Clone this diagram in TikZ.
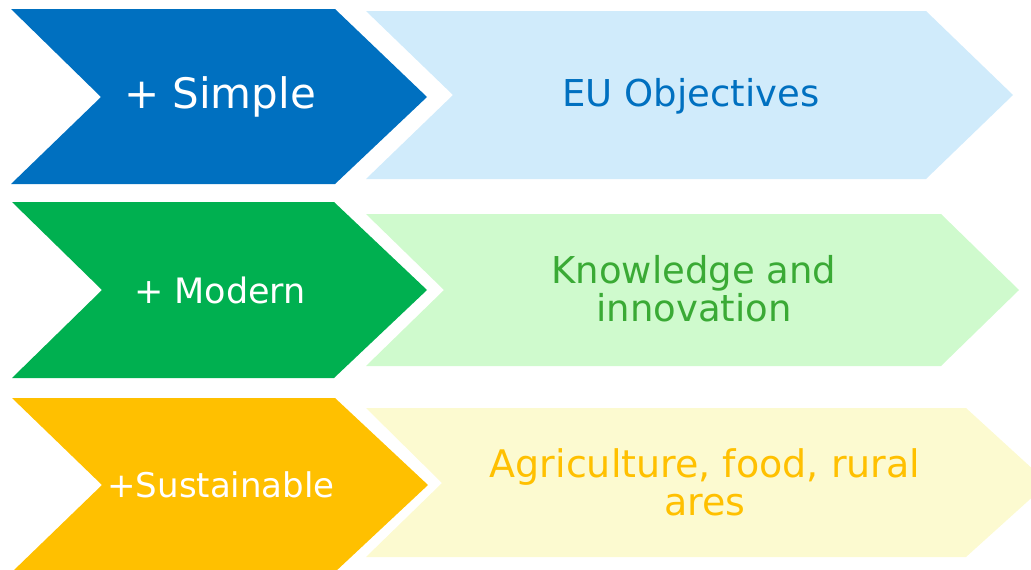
\documentclass[tikz,border=0pt]{standalone}
\usepackage{fontspec}
\setmainfont{DejaVu Sans}
\usetikzlibrary{positioning}

\definecolor{darkblue}{HTML}{0070C0}
\definecolor{darkgreen}{HTML}{00B050}
\definecolor{darkyellow}{HTML}{FFC000}
\definecolor{paleblue}{HTML}{D0EBFB}
\definecolor{palegreen}{HTML}{CFFACD}
\definecolor{paleyellow}{HTML}{FCFAD0}
\definecolor{textgreen}{HTML}{3AAA35}

\begin{document}
\begin{tikzpicture}[x=1pt, y=-1pt,
  label/.style={text=white, inner sep=0pt, font=\fontsize{35}{40}\selectfont},
  goal/.style={align=center, inner sep=0pt, font=\fontsize{37}{38}\selectfont}]

\useasboundingbox (0,0) rectangle (1031,570);

% Dark chevrons on the left
\fill[darkblue] (11,9) -- ++(324,0) -- ++(92,88) -- ++(-92,87) -- ++(-324,0) -- ++(90,-87) -- cycle;
\fill[darkgreen] (12,202) -- ++(322,0) -- ++(93,88) -- ++(-93,88) -- ++(-322,0) -- ++(90,-88) -- cycle;
\fill[darkyellow] (12,398) -- ++(323,0) -- ++(93,87) -- ++(-93,87) -- ++(-323,0) -- ++(90,-87) -- cycle;

% Pale chevrons on the right
\fill[paleblue] (366,11) -- ++(560,0) -- ++(87,84) -- ++(-87,84) -- ++(-560,0) -- ++(87,-84) -- cycle;
\fill[palegreen] (366,214) -- ++(575,0) -- ++(78,76) -- ++(-78,76) -- ++(-575,0) -- ++(78,-76) -- cycle;
\fill[paleyellow] (366,408) -- ++(600,0) -- ++(82,75) -- ++(-82,74) -- ++(-600,0) -- ++(76,-74) -- cycle;

% Labels in the dark chevrons
\node[label, font=\fontsize{42}{46}\selectfont] (simple) at (220,97) {+ Simple};
\node[label] (modern) at (220,290) {+ Modern};
\node[label, font=\fontsize{34}{40}\selectfont] (sustain) at (221,485) {+Sustainable};

% Labels in the pale chevrons
\node[goal, text=darkblue] (objectives) at (691,96) {EU Objectives};
\node[goal, text=textgreen] (knowledge) at (694,289) {Knowledge and\\innovation};
\node[goal, text=darkyellow, font=\fontsize{38}{38}\selectfont] (agri) at (705,482) {Agriculture, food, rural\\ares};

\end{tikzpicture}
\end{document}
